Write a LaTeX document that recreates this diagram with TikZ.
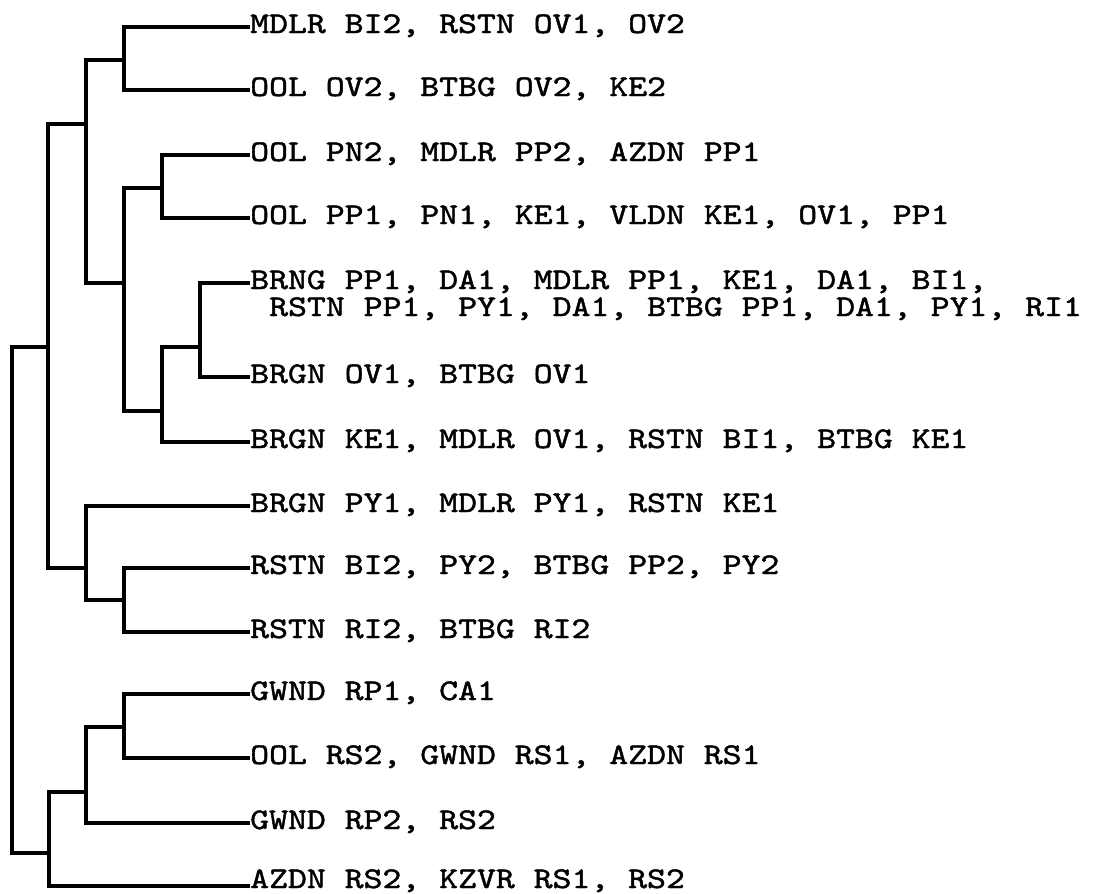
\documentclass[tikz,border=0pt]{standalone}
\usepackage{fontspec}
\usepackage{tikz}
\usetikzlibrary{calc}
\newfontfamily\treefont{lmmono10-regular.otf}[FakeStretch=1.2, FakeBold=1.5]

\begin{document}
\begin{tikzpicture}[x=1pt, y=-1pt,
    stem/.style={line width=3.2pt, line join=miter},
    ltxt/.style={anchor=base west, inner sep=0pt, font=\treefont\fontsize{30}{24}\selectfont}]
  \useasboundingbox (0,0) rectangle (1093,894);
  % leaf ends
  \coordinate (l1) at (250,27);
  \coordinate (l2) at (250,90);
  \coordinate (l3) at (250,155);
  \coordinate (l4) at (250,218);
  \coordinate (l5) at (250,283);
  \coordinate (l6) at (250,377);
  \coordinate (l7) at (250,442);
  \coordinate (l8) at (250,506);
  \coordinate (l9) at (250,568);
  \coordinate (l10) at (250,632);
  \coordinate (l11) at (250,694);
  \coordinate (l12) at (250,758);
  \coordinate (l13) at (250,823);
  \coordinate (l14) at (250,886);
  % labels
  \node[ltxt] (t1) at ([yshift=-6pt]l1) {MDLR BI2, RSTN OV1, OV2};
  \node[ltxt] (t2) at ([yshift=-6pt]l2) {OOL OV2, BTBG OV2, KE2};
  \node[ltxt] (t3) at ([yshift=-6pt]l3) {OOL PN2, MDLR PP2, AZDN PP1};
  \node[ltxt] (t4) at ([yshift=-6pt]l4) {OOL PP1, PN1, KE1, VLDN KE1, OV1, PP1};
  \node[ltxt] (t5) at ([yshift=-6pt]l5) {BRNG PP1, DA1, MDLR PP1, KE1, DA1, BI1,};
  \node[ltxt] (t5b) at ($(t5.base west)+(19,27)$) {RSTN PP1, PY1, DA1, BTBG PP1, DA1, PY1, RI1};
  \node[ltxt] (t6) at ([yshift=-6pt]l6) {BRGN OV1, BTBG OV1};
  \node[ltxt] (t7) at ([yshift=-6pt]l7) {BRGN KE1, MDLR OV1, RSTN BI1, BTBG KE1};
  \node[ltxt] (t8) at ([yshift=-6pt]l8) {BRGN PY1, MDLR PY1, RSTN KE1};
  \node[ltxt] (t9) at ([yshift=-6pt]l9) {RSTN BI2, PY2, BTBG PP2, PY2};
  \node[ltxt] (t10) at ([yshift=-6pt]l10) {RSTN RI2, BTBG RI2};
  \node[ltxt] (t11) at ([yshift=-6pt]l11) {GWND RP1, CA1};
  \node[ltxt] (t12) at ([yshift=-6pt]l12) {OOL RS2, GWND RS1, AZDN RS1};
  \node[ltxt] (t13) at ([yshift=-6pt]l13) {GWND RP2, RS2};
  \node[ltxt] (t14) at ([yshift=-2pt]l14) {AZDN RS2, KZVR RS1, RS2};
  % joins
  \coordinate (ja) at (124,60);
  \coordinate (jb) at (162,188);
  \coordinate (jc) at (200,347);
  \coordinate (jd) at (162,411);
  \coordinate (je) at (124,283);
  \coordinate (jf) at (86,124);
  \coordinate (jg) at (124,600);
  \coordinate (jh) at (86,568);
  \coordinate (ji) at (48,347);
  \coordinate (jj) at (124,727);
  \coordinate (jk) at (86,792);
  \coordinate (jl) at (49,853);
  \coordinate (root) at (12,600);
  % upper cluster
  \draw[stem] (l1) -| (ja) |- (l2);
  \draw[stem] (l3) -| (jb) |- (l4);
  \draw[stem] (l5) -| (jc) |- (l6);
  \draw[stem] (jc) -| (jd) |- (l7);
  \draw[stem] (jb) -| (je) |- (jd);
  \draw[stem] (ja) -| (jf) |- (je);
  \draw[stem] (l9) -| (jg) |- (l10);
  \draw[stem] (l8) -| (jh) |- (jg);
  \draw[stem] (jf) -| (ji) |- (jh);
  % lower cluster
  \draw[stem] (l11) -| (jj) |- (l12);
  \draw[stem] (jj) -| (jk) |- (l13);
  \draw[stem] (jk) -| (jl) |- (l14);
  % root
  \draw[stem] (ji) -| (root) |- (jl);
\end{tikzpicture}
\end{document}
